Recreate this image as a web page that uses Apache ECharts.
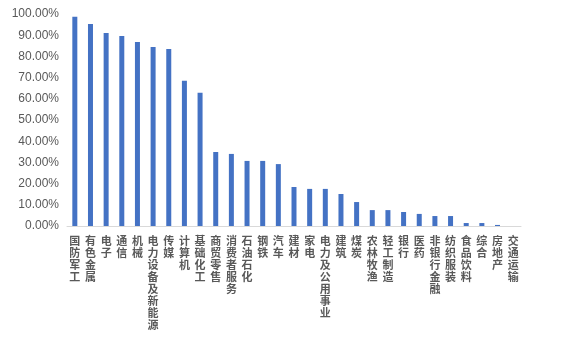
<!DOCTYPE html>
<html><head><meta charset="utf-8">
<script src="https://cdn.jsdelivr.net/npm/echarts@6/dist/echarts.min.js"></script>
<style>html,body{margin:0;padding:0;background:#fff}#c{width:567px;height:341px}</style>
</head><body><div id="c"></div>
<script>
var categories = ['国防军工','有色金属','电子','通信','机械','电力设备及新能源','传媒','计算机','基础化工','商贸零售','消费者服务','石油石化','钢铁','汽车','建材','家电','电力及公用事业','建筑','煤炭','农林牧渔','轻工制造','银行','医药','非银行金融','纺织服装','食品饮料','综合','房地产','交通运输'];
var values = [98.7,95.3,91.0,89.6,86.8,84.4,83.5,68.5,62.9,34.9,34.0,30.7,30.7,29.2,18.4,17.5,17.5,15.1,11.3,7.5,7.5,6.6,5.7,4.7,4.7,1.4,1.4,0.5,0.0];
var yTicks = [0,10,20,30,40,50,60,70,80,90,100];
var chart = echarts.init(document.getElementById('c'));
chart.setOption({
  animation:false,
  grid:{left:67,right:46,top:14,bottom:115,containLabel:false},
  xAxis:{type:'category',data:categories,
    axisLine:{lineStyle:{color:'#d9d9d9',width:1}},
    axisTick:{show:false},
    axisLabel:{interval:0,margin:9,color:'#595959',fontSize:11,lineHeight:12,fontWeight:'bold',
      fontFamily:'Noto Sans CJK SC',verticalAlign:'top',
      formatter:function(v){return v.split('').join('\n');}}
  },
  yAxis:{type:'value',min:yTicks[0],max:yTicks[yTicks.length-1],interval:10,
    splitLine:{show:false},axisLine:{show:false},axisTick:{show:false},
    axisLabel:{color:'#595959',fontSize:12,margin:8,fontFamily:'Liberation Sans',
      formatter:function(v){return v.toFixed(2)+'%';}}
  },
  series:[{type:'bar',data:values,barWidth:5,itemStyle:{color:'#4472C4'}}]
});
</script></body></html>
